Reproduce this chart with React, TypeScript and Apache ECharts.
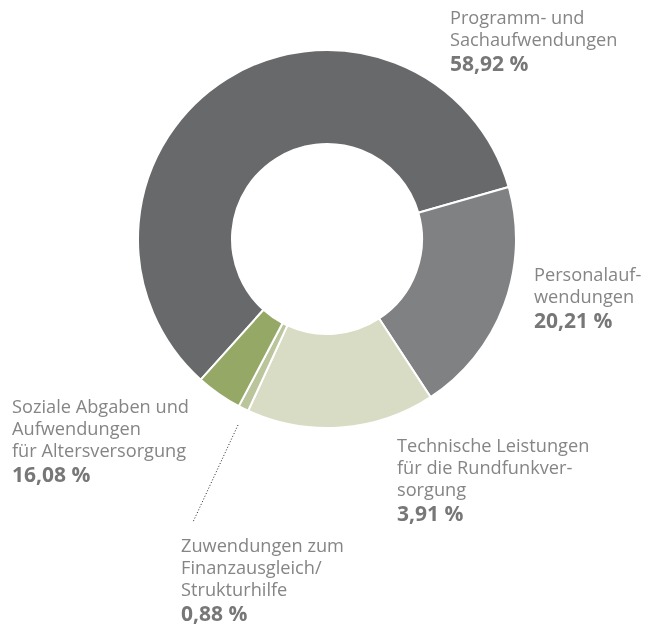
import React, { useEffect, useRef } from "react";
import * as echarts from "echarts";

// Slices in drawing order (clockwise), sizes as drawn in the picture
const sliceNames = [
  "Programm- und Sachaufwendungen",
  "Personalaufwendungen",
  "Technische Leistungen für die Rundfunkversorgung",
  "Zuwendungen zum Finanzausgleich/Strukturhilfe",
  "Soziale Abgaben und Aufwendungen für Altersversorgung",
];
const sliceValues = [58.92, 20.21, 16.08, 0.88, 3.91];
const sliceColors = ["#68696b", "#808183", "#d9dcc4", "#bac59c", "#95a865"];

// Label texts as printed
const labelLines = [
  ["Programm- und", "Sachaufwendungen"],
  ["Personalauf-", "wendungen"],
  ["Technische Leistungen", "für die Rundfunkver-", "sorgung"],
  ["Zuwendungen zum", "Finanzausgleich/", "Strukturhilfe"],
  ["Soziale Abgaben und", "Aufwendungen", "für Altersversorgung"],
];
const labelPercents = ["58,92 %", "20,21 %", "3,91 %", "0,88 %", "16,08 %"];

const labelPos = [
  { x: 450, y: 6 },
  { x: 534, y: 263 },
  { x: 397, y: 434 },
  { x: 181, y: 534 },
  { x: 12, y: 395 },
];

export default function App() {
  const ref = useRef<HTMLDivElement>(null);
  useEffect(() => {
    if (!ref.current) return;
    const chart = echarts.init(ref.current, undefined, { renderer: "svg" });
    const FONT = "Open Sans";
    const LH = 22;
    const graphics: any[] = [];
    labelLines.forEach((lines, i) => {
      const p = labelPos[i];
      lines.forEach((line, j) => {
        graphics.push({
          type: "text",
          x: p.x,
          y: p.y + j * LH,
          style: {
            text: line,
            fontFamily: FONT,
            fontSize: 18.2,
            lineHeight: LH,
            fill: "#858585",
            verticalAlign: "top",
          },
        });
      });
      graphics.push({
        type: "text",
        x: p.x,
        y: p.y + lines.length * LH + 1,
        style: {
          text: labelPercents[i],
          fontFamily: FONT,
          fontSize: 21,
          fontWeight: "bold",
          lineHeight: LH + 2,
          fill: "#777777",
          verticalAlign: "top",
        },
      });
    });
    graphics.push({
      type: "line",
      shape: { x1: 238, y1: 425, x2: 193, y2: 522 },
      style: { stroke: "#222", lineWidth: 1, lineDash: [1, 2] },
    });

    chart.setOption({
      animation: false,
      series: [
        {
          type: "pie",
          center: [327, 239],
          radius: [95, 189],
          startAngle: 90 - 221.9,
          clockwise: true,
          label: { show: false },
          labelLine: { show: false },
          itemStyle: { borderColor: "#ffffff", borderWidth: 2 },
          emphasis: { disabled: true },
          data: sliceValues.map((v, i) => ({
            name: sliceNames[i],
            value: v,
            itemStyle: { color: sliceColors[i] },
          })),
        },
      ],
      graphic: graphics,
    });
    return () => chart.dispose();
  }, []);
  return (
    <div
      ref={ref}
      style={{ position: "fixed", left: 0, top: 0, width: 650, height: 628 }}
    />
  );
}
